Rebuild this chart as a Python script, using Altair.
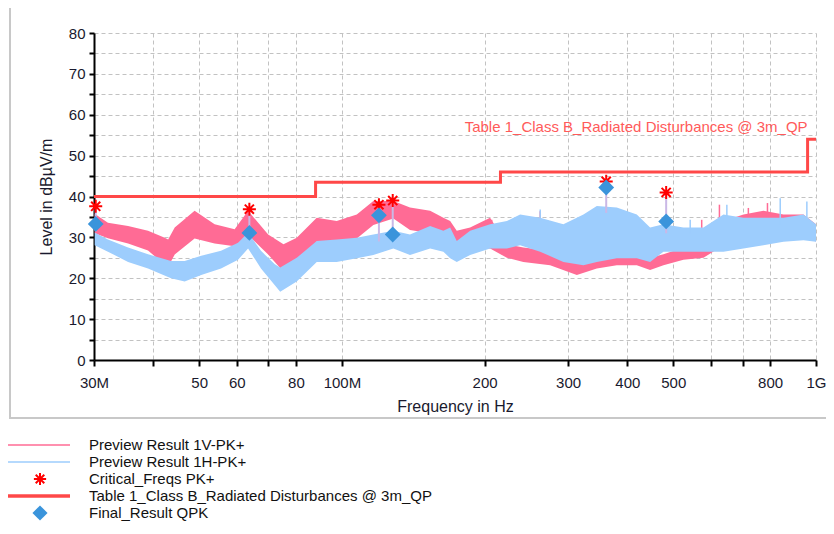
import altair as alt
import pandas as pd

# ---------------- data ----------------
# Preview Result 1V-PK+ (pink) : envelope of the noisy trace, MHz / dBuV/m
v_freq = [30.1, 32.1, 35.4, 39.0, 42.3, 43.0, 44.4, 48.9, 53.9, 59.4, 63.4, 69.9,
          75.3, 80.3, 88.5, 97.5, 107.5, 116.5, 128.4, 139.2, 153.5, 163.7, 169.2,
          174.7, 186.4, 205.4, 222.8, 241.4, 274.9, 313.0, 344.9, 380.0, 418.8,
          446.8, 476.7, 525.3, 578.9, 638.0, 703.1, 774.7, 853.9, 940.9, 1000.0]
v_lo = [31.0, 29.8, 28.5, 26.8, 23.3, 22.8, 25.8, 29.7, 28.5, 27.8, 30.6, 25.8,
        21.6, 23.2, 28.9, 28.9, 29.7, 33.0, 34.6, 31.8, 31.0, 27.3, 25.0,
        25.0, 26.6, 27.3, 25.0, 24.0, 23.2, 20.8, 22.4, 23.2, 23.2,
        22.0, 23.2, 24.5, 25.0, 28.1, 28.1, 29.3, 30.2, 30.2, 29.0]
v_hi = [35.8, 33.6, 32.8, 31.6, 29.9, 29.5, 32.4, 36.5, 33.2, 32.0, 36.5, 30.7,
        28.3, 29.9, 34.8, 34.0, 35.6, 38.9, 38.9, 37.3, 36.5, 34.8, 34.0,
        31.6, 32.4, 34.8, 28.3, 27.5, 26.7, 25.0, 25.9, 26.7, 26.7,
        25.0, 25.9, 27.5, 30.7, 34.0, 35.6, 36.5, 35.6, 35.6, 33.2]

# Preview Result 1H-PK+ (light blue)
h_freq = [30.1, 32.1, 35.4, 39.0, 43.6, 46.6, 50.5, 55.6, 60.4, 63.4, 67.5, 72.2,
          74.1, 80.3, 88.5, 97.5, 107.5, 116.5, 128.4, 139.2, 153.5, 163.7, 169.2,
          174.7, 186.4, 205.4, 222.8, 237.6, 261.9, 293.2, 323.2, 344.9, 380.0,
          418.8, 446.8, 476.7, 525.3, 578.9, 638.0, 703.1, 774.7, 853.9, 940.9, 1000.0]
h_lo = [28.1, 26.5, 24.0, 22.4, 20.0, 19.2, 20.8, 22.4, 24.5, 27.3, 22.4, 18.3,
        16.7, 19.2, 24.0, 24.0, 24.9, 25.7, 27.3, 25.7, 27.3, 26.5, 24.9,
        24.0, 25.7, 27.3, 27.3, 28.1, 26.5, 24.0, 23.2, 24.0, 24.9,
        24.9, 24.0, 26.5, 26.5, 26.5, 26.5, 27.3, 28.1, 28.9, 29.3, 28.9]
h_hi = [31.2, 29.5, 27.5, 25.9, 24.2, 24.2, 25.5, 26.7, 28.7, 31.2, 26.7, 23.4,
        22.6, 25.0, 29.1, 29.5, 29.9, 30.7, 31.6, 30.7, 32.8, 31.6, 32.4,
        29.1, 31.6, 33.2, 34.0, 35.6, 34.8, 33.2, 35.6, 37.7, 37.3,
        35.6, 32.4, 33.2, 32.4, 32.4, 35.6, 34.8, 34.8, 34.8, 35.6, 33.2]

# isolated spikes above the envelopes
v_spike_freq = [207.0, 262.0, 574.0, 625.6, 720.0, 790.0]
v_spike_base = [31.0, 28.0, 30.0, 32.0, 33.0, 34.0]
v_spike_peak = [34.3, 36.4, 34.3, 38.0, 37.2, 38.4]
h_spike_freq = [262.0, 361.0, 542.8, 648.6, 840.5, 956.6]
h_spike_base = [33.0, 36.0, 31.0, 32.0, 33.0, 34.0]
h_spike_peak = [36.8, 37.6, 34.3, 38.0, 39.6, 38.8]

# Critical_Freqs PK+ and Final_Result QPK
crit_freq = [30.25, 63.8, 119.7, 128.0, 361.0, 483.0]
crit_pk = [37.6, 36.9, 38.0, 39.0, 43.7, 41.0]
final_qpk = [33.3, 31.1, 35.4, 30.7, 42.2, 33.9]
conn_floor = [31.5, 31.1, 29.0, 30.7, 36.0, 31.0]

# Limit: Table 1_Class B_Radiated Disturbances @ 3m_QP
limit_freq = [30, 88, 216, 960, 1000]
limit_level = [40, 43.5, 46, 54, 54]
limit_name = "Table 1_Class B_Radiated Disturbances @ 3m_QP"

# axes
x_ticks = [30, 40, 50, 60, 70, 80, 100, 200, 300, 400, 500, 600, 700, 800, 1000]
x_tick_labels = ["30M", "", "50", "60", "", "80", "100M", "200", "300", "400",
                 "500", "", "", "800", "1G"]
y_ticks = list(range(0, 81, 5))

legend_labels = ["Preview Result 1V-PK+", "Preview Result 1H-PK+", "Critical_Freqs PK+",
                 "Table 1_Class B_Radiated Disturbances @ 3m_QP", "Final_Result QPK"]

# ---------------- styles ----------------
PINK = "#ff6b95"
BLUE = "#9dcdfd"
RED = "#ff0000"
LIMIT = "#ff4848"
DIAM = "#3a94db"
CONN = "#cab8e6"
FONT = "Liberation Sans"
STAR = "M0,-1L0,1M-1,0L1,0M-0.7,-0.7L0.7,0.7M-0.7,0.7L0.7,-0.7"

label_expr = " : ".join(
    f"round(datum.value) == {v} ? '{t}'" for v, t in zip(x_ticks, x_tick_labels)
) + " : ''"

xscale = alt.Scale(type="log", domain=[30, 1000], nice=False)
yscale = alt.Scale(domain=[0, 80], nice=False)
xaxis = alt.Axis(values=x_ticks, labelExpr=label_expr, grid=True, tickSize=6,
                 labelPadding=9, titlePadding=8, labelFlush=False, labelOverlap=False)
yaxis = alt.Axis(values=y_ticks, labelExpr="datum.value % 10 == 0 ? datum.label : ''",
                 grid=True, tickSize=5, labelPadding=4, titlePadding=14)


def X(field):
    return alt.X(f"{field}:Q", scale=xscale, axis=xaxis, title="Frequency in Hz")


def Y(field):
    return alt.Y(f"{field}:Q", scale=yscale, axis=yaxis, title="Level in dBµV/m")


v_df = pd.DataFrame({"f": v_freq, "lo": v_lo, "hi": v_hi})
h_df = pd.DataFrame({"f": h_freq, "lo": h_lo, "hi": h_hi})
vs_df = pd.DataFrame({"f": v_spike_freq, "lo": v_spike_base, "hi": v_spike_peak})
hs_df = pd.DataFrame({"f": h_spike_freq, "lo": h_spike_base, "hi": h_spike_peak})
pk_df = pd.DataFrame({"f": crit_freq, "pk": crit_pk, "qpk": final_qpk, "floor": conn_floor})
lim_df = pd.DataFrame({"f": limit_freq, "lvl": limit_level})
lim_txt = pd.DataFrame({"f": [limit_freq[-2]], "lvl": [limit_level[-2]], "t": [limit_name]})

frame = alt.Chart(pd.DataFrame({"a": [0]})).mark_rect(
    fill=None, stroke="#c8c8c8", strokeWidth=2
).encode(x=alt.value(-84), x2=alt.value(738), y=alt.value(-26), y2=alt.value(385))

v_band = alt.Chart(v_df).mark_area(color=PINK, opacity=1).encode(
    x=X("f"), y=Y("lo"), y2="hi")
v_sp = alt.Chart(vs_df).mark_rule(color=PINK, strokeWidth=1.5).encode(
    x=X("f"), y=Y("lo"), y2="hi")
h_band = alt.Chart(h_df).mark_area(color=BLUE, opacity=1).encode(
    x=X("f"), y=Y("lo"), y2="hi")
h_sp = alt.Chart(hs_df).mark_rule(color=BLUE, strokeWidth=1.5).encode(
    x=X("f"), y=Y("lo"), y2="hi")
conn = alt.Chart(pk_df).mark_rule(color=CONN, strokeWidth=2).encode(
    x=X("f"), y=Y("floor"), y2="pk")
limit = alt.Chart(lim_df).mark_line(color=LIMIT, strokeWidth=3, interpolate="step-after").encode(
    x=X("f"), y=Y("lvl"))
limit_text = alt.Chart(lim_txt).mark_text(
    align="right", baseline="bottom", dy=-4, fontSize=15, font=FONT, color="#ff5a5a"
).encode(x=X("f"), y=Y("lvl"), text="t:N")
stars = alt.Chart(pk_df).mark_point(
    shape=STAR, filled=False, color=RED, strokeWidth=2, size=170, opacity=1
).encode(x=X("f"), y=Y("pk"))
diamonds = alt.Chart(pk_df).mark_point(
    shape="diamond", filled=True, color=DIAM, size=250, opacity=1
).encode(x=X("f"), y=Y("qpk"))

main = alt.layer(frame, v_band, v_sp, h_band, h_sp, conn, limit, limit_text, stars, diamonds)

# ---------------- legend (own y scale) ----------------
leg_df = pd.DataFrame({"label": legend_labels, "row": list(range(len(legend_labels)))})
LY = alt.Y("row:Q", scale=alt.Scale(domain=[0, 4], range=[412, 480]), axis=None)
base = alt.Chart(leg_df)


def leg_rule(i, color, width):
    return base.transform_filter(f"datum.row == {i}").mark_rule(
        color=color, strokeWidth=width).encode(x=alt.value(-86), x2=alt.value(-24), y=LY)


leg = alt.layer(
    leg_rule(0, PINK, 1.5),
    leg_rule(1, BLUE, 1.5),
    leg_rule(3, LIMIT, 3.5),
    base.transform_filter("datum.row == 2").mark_point(
        shape=STAR, filled=False, color=RED, strokeWidth=2, size=150, opacity=1
    ).encode(x=alt.value(-54), y=LY),
    base.transform_filter("datum.row == 4").mark_point(
        shape="diamond", filled=True, color=DIAM, size=230, opacity=1
    ).encode(x=alt.value(-54), y=LY),
    base.mark_text(align="left", baseline="middle", fontSize=15, font=FONT, color="#111").encode(
        x=alt.value(-5), y=LY, text="label:N"),
)

chart = alt.layer(main, leg).resolve_scale(y="independent").properties(
    width=722, height=327,
    autosize=alt.AutoSizeParams(type="none"),
    padding={"left": 86, "top": 25, "right": 10, "bottom": 166},
).configure_view(stroke=None).configure_axis(
    labelFont=FONT, titleFont=FONT, labelFontSize=15, titleFontSize=16,
    titleFontWeight="normal", labelColor="#1a1a2e", titleColor="#1a1a2e",
    domainColor="#000", domainWidth=2, tickColor="#000", tickWidth=2,
    gridColor="#c2c2c2", gridDash=[4, 3], gridWidth=1,
)

chart.save("out.html", embed_options={"renderer": "svg", "actions": False})
